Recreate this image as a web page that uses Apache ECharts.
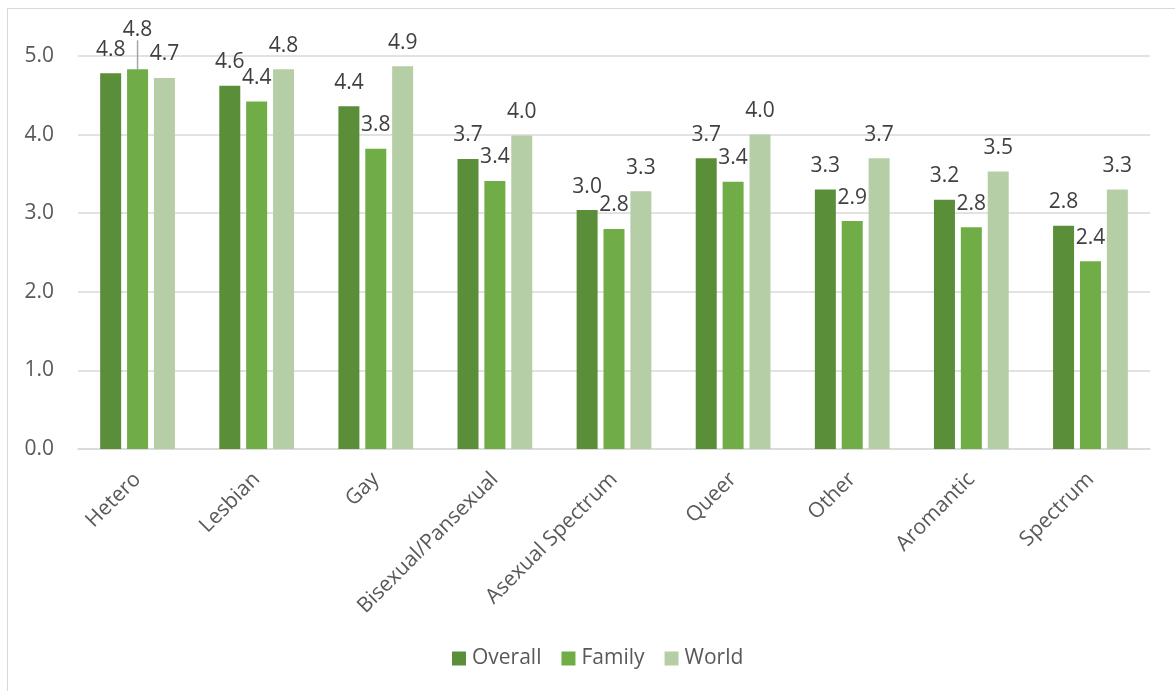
<!DOCTYPE html>
<html>
<head>
<meta charset="utf-8">
<script src="https://cdn.jsdelivr.net/npm/echarts@6/dist/echarts.min.js"></script>
<style>
  html, body { margin: 0; padding: 0; background: #fff; }
  #frame { position: absolute; left: 7px; top: 8px; width: 1180px; height: 700px;
           border-left: 1.5px solid #d9d9d9; border-top: 1.5px solid #d9d9d9; }
  #chart { position: absolute; left: 0; top: 0; width: 1175px; height: 691px; }
</style>
</head>
<body>
<div id="frame"></div>
<div id="chart"></div>
<script>
const categories = ['Hetero', 'Lesbian', 'Gay', 'Bisexual/Pansexual', 'Asexual Spectrum', 'Queer', 'Other', 'Aromantic', 'Spectrum'];
const overall = [4.78, 4.62, 4.36, 3.69, 3.04, 3.70, 3.30, 3.17, 2.84];
const family  = [4.83, 4.42, 3.82, 3.41, 2.80, 3.40, 2.90, 2.82, 2.39];
const world   = [4.72, 4.83, 4.87, 3.99, 3.28, 4.00, 3.70, 3.53, 3.30];
const seriesNames = ['Overall', 'Family', 'World'];
const yTicks = [0, 1, 2, 3, 4, 5];

const FONT = '"Open Sans", "Noto Sans", sans-serif';
const FS = 21;
const colors = ['#5b8e38', '#70ad47', '#b5cea6'];

const chart = echarts.init(document.getElementById('chart'));

function mkSeries(name, data, idx) {
  const s = {
    name: name,
    type: 'bar',
    data: data,
    barWidth: 21,
    barGap: '28%',
    itemStyle: { color: colors[idx] },
    label: {
      show: true,
      position: 'top',
      distance: 13,
      fontFamily: FONT,
      fontSize: FS,
      color: '#404040',
      formatter: p => Number(p.value).toFixed(1)
    }
  };
  if (idx === 1) {
    // the first Family label is lifted above its neighbours, with a leader line
    s.data = data.map((v, i) => i === 0
      ? { value: v, labelLine: { show: true, lineStyle: { color: '#a6a6a6', width: 1.5 } } }
      : v);
    s.labelLine = { show: false };
    s.labelLayout = function (params) {
      if (params.dataIndex === 0) return { dy: -16 };
      return {};
    };
  }
  return s;
}

chart.setOption({
  animation: false,
  backgroundColor: 'transparent',
  textStyle: { fontFamily: FONT },
  color: colors,
  grid: { left: 78, right: 25, top: 56, bottom: 242, containLabel: false },
  legend: {
    data: seriesNames,
    bottom: 17,
    left: 447,
    icon: 'rect',
    itemWidth: 14,
    itemHeight: 14,
    itemGap: 20,
    textStyle: { fontFamily: FONT, fontSize: FS, color: '#595959', padding: [0, 0, 0, 1] }
  },
  xAxis: {
    type: 'category',
    data: categories,
    axisLine: { lineStyle: { color: '#d9d9d9', width: 1.5 } },
    axisTick: { show: false },
    axisLabel: { rotate: 45, margin: 27, fontFamily: FONT, fontSize: FS, color: '#595959', interval: 0 }
  },
  yAxis: {
    type: 'value',
    min: yTicks[0],
    max: yTicks[yTicks.length - 1],
    interval: 1,
    axisLine: { show: false },
    axisTick: { show: false },
    splitLine: { lineStyle: { color: '#d9d9d9', width: 1.5 } },
    axisLabel: { margin: 24, fontFamily: FONT, fontSize: FS, color: '#595959', formatter: v => v.toFixed(1) }
  },
  series: [mkSeries('Overall', overall, 0), mkSeries('Family', family, 1), mkSeries('World', world, 2)]
});
</script>
</body>
</html>
